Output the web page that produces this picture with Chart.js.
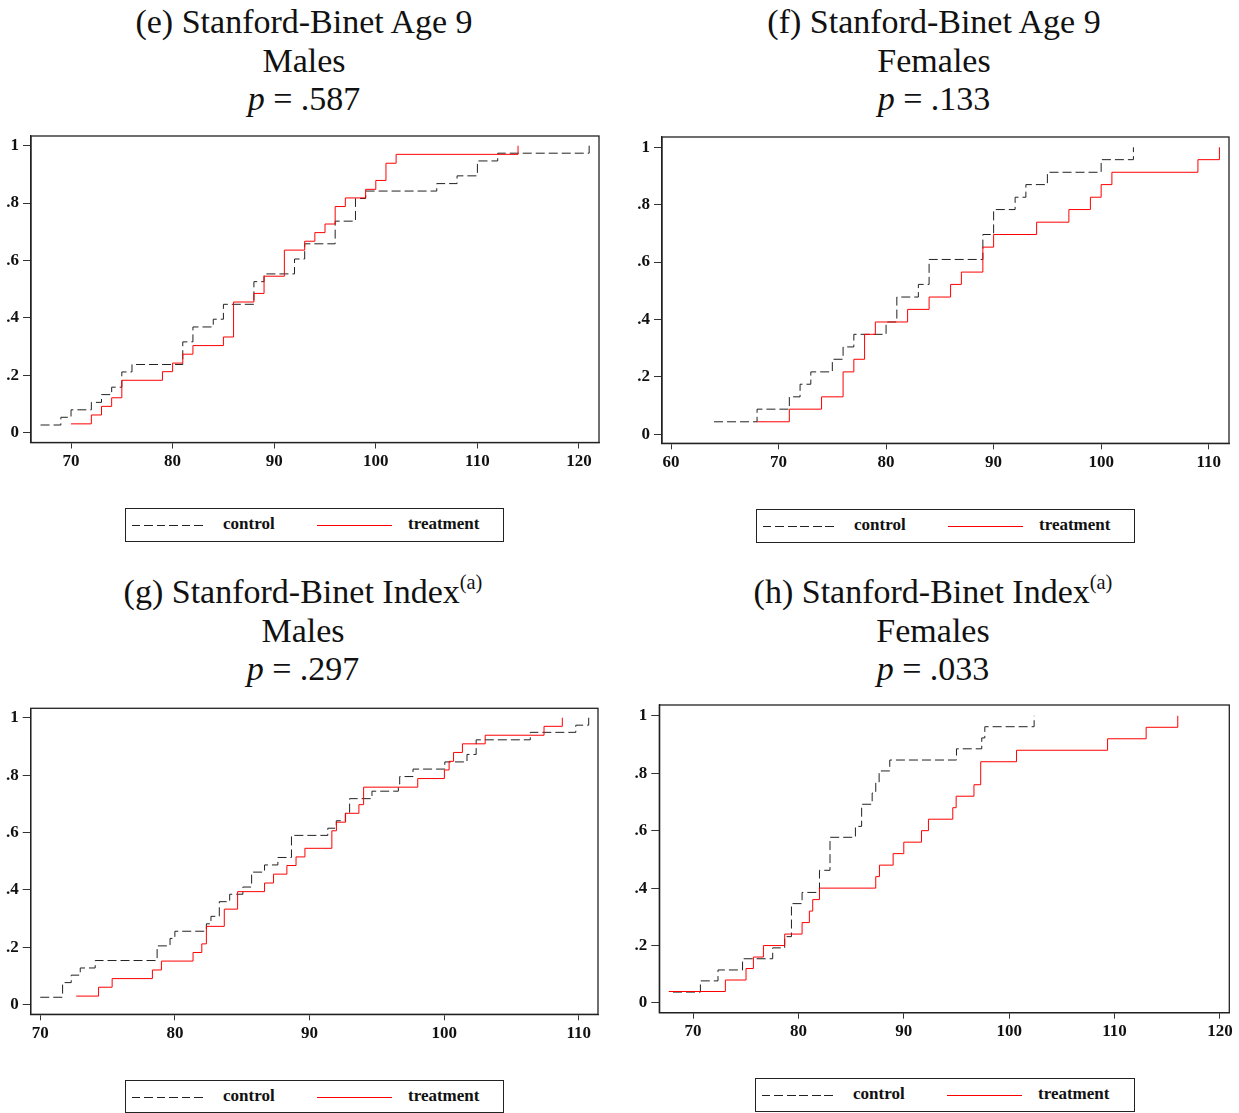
<!DOCTYPE html>
<html>
<head>
<meta charset="utf-8">
<script src="https://cdn.jsdelivr.net/npm/chart.js@4.4.0/dist/chart.umd.min.js"></script>
<style>
  body { margin: 0; background: #fff; }
  #page { position: relative; width: 1239px; height: 1113px; overflow: hidden; font-family: "Liberation Serif", serif; color: #111; }
  .title { position: absolute; width: 640px; text-align: center; font-size: 34px; line-height: 38.5px; }
  .title sup { font-size: 0.6em; line-height: 0; vertical-align: 0.7em; }
  canvas { position: absolute; }
  .legend { position: absolute; border: 1px solid #222; box-sizing: border-box; font-weight: bold; font-size: 17px; }
  .legend .item { position: absolute; top: 50%; transform: translateY(-55%); white-space: nowrap; }
  .legend .dash { position: absolute; top: 50%; height: 1px; width: 75px; background: repeating-linear-gradient(to right, #222 0 8.5px, transparent 8.5px 12.5px); }
  .legend .solid { position: absolute; top: 50%; height: 1px; width: 75px; background: #ff0000; }
</style>
</head>
<body>
<div id="page">
  <div class="title" style="left:-16px; top:3px;">(e) Stanford-Binet Age 9<br>Males<br><i>p</i> = .587</div>
  <div class="title" style="left:614px; top:3px;">(f) Stanford-Binet Age 9<br>Females<br><i>p</i> = .133</div>
  <div class="title" style="left:-17px; top:573px;">(g) Stanford-Binet Index<sup>(a)</sup><br>Males<br><i>p</i> = .297</div>
  <div class="title" style="left:613px; top:573px;">(h) Stanford-Binet Index<sup>(a)</sup><br>Females<br><i>p</i> = .033</div>

  <canvas id="chartE" width="615" height="355" style="left:0px; top:125px;"></canvas>
  <canvas id="chartF" width="619" height="355" style="left:620px; top:125px;"></canvas>
  <canvas id="chartG" width="615" height="355" style="left:0px; top:697px;"></canvas>
  <canvas id="chartH" width="619" height="355" style="left:620px; top:694px;"></canvas>

  <div class="legend" style="left:125px; top:508px; width:379px; height:34px;">
    <div class="dash" style="left:6px;"></div><div class="item" style="left:97px;">control</div>
    <div class="solid" style="left:191px;"></div><div class="item" style="left:282px;">treatment</div>
  </div>
  <div class="legend" style="left:756px; top:509px; width:379px; height:34px;">
    <div class="dash" style="left:6px;"></div><div class="item" style="left:97px;">control</div>
    <div class="solid" style="left:191px;"></div><div class="item" style="left:282px;">treatment</div>
  </div>
  <div class="legend" style="left:125px; top:1080px; width:379px; height:33px;">
    <div class="dash" style="left:6px;"></div><div class="item" style="left:97px;">control</div>
    <div class="solid" style="left:191px;"></div><div class="item" style="left:282px;">treatment</div>
  </div>
  <div class="legend" style="left:755px; top:1078px; width:380px; height:34px;">
    <div class="dash" style="left:6px;"></div><div class="item" style="left:97px;">control</div>
    <div class="solid" style="left:191px;"></div><div class="item" style="left:282px;">treatment</div>
  </div>
</div>

<script>
// tick labels
const yTicks = [0, 0.2, 0.4, 0.6, 0.8, 1];
const yTickLabels = ['0', '.2', '.4', '.6', '.8', '1'];
const eXTicks = [70, 80, 90, 100, 110, 120];
const fXTicks = [60, 70, 80, 90, 100, 110];
const gXTicks = [70, 80, 90, 100, 110];
const hXTicks = [70, 80, 90, 100, 110, 120];

// (e) Age 9, males
const eCtrlX = [67, 69, 70, 72, 73, 74, 75, 76, 81, 82, 84, 85, 88, 89, 92, 93, 96, 98, 99, 106, 108, 110, 112, 121];
const eCtrlY = [.026, .053, .079, .105, .132, .158, .211, .237, .316, .368, .395, .447, .526, .553, .605, .658, .737, .816, .842, .868, .895, .947, .974, 1];
const eTrtX = [70, 72, 73, 74, 75, 79, 80, 81, 82, 85, 86, 88, 89, 91, 93, 94, 95, 96, 97, 99, 100, 101, 102, 114];
const eTrtY = [.030, .061, .091, .121, .182, .212, .242, .273, .303, .333, .455, .485, .545, .636, .667, .697, .727, .788, .818, .848, .879, .939, .970, 1];

// (f) Age 9, females
const fCtrlX = [64, 68, 71, 72, 73, 75, 76, 77, 80, 81, 83, 84, 89, 90, 92, 93, 95, 100, 103];
const fCtrlY = [.043, .087, .130, .174, .217, .261, .304, .348, .391, .478, .522, .609, .696, .783, .826, .870, .913, .957, 1];
const fTrtX = [68, 71, 74, 76, 77, 78, 79, 82, 84, 86, 87, 89, 90, 94, 97, 99, 100, 101, 109, 111];
const fTrtY = [.043, .087, .130, .217, .261, .348, .391, .435, .478, .522, .565, .652, .696, .739, .783, .826, .870, .913, .957, 1];

// (g) Index, males
const gCtrlX = [70.0, 71.66, 72.3, 72.97, 74.08, 78.68, 79.64, 80.0, 82.34, 82.68, 83.3, 84.07, 85.05, 85.7, 86.66, 87.65, 88.66, 91.36, 91.99, 92.66, 92.98, 94.64, 96.6, 96.7, 97.69, 100.05, 101.7, 102.38, 106.4, 109.78, 110.74];
const gCtrlY = [.026, .077, .103, .128, .154, .205, .231, .256, .282, .308, .359, .385, .410, .462, .487, .513, .590, .615, .641, .667, .718, .744, .769, .795, .821, .846, .872, .923, .949, .974, 1];
const gTrtX = [72.67, 74.33, 75.34, 78.33, 79.0, 81.35, 82.0, 82.34, 83.67, 84.66, 86.66, 87.33, 88.32, 89.0, 89.66, 91.66, 92.0, 92.68, 93.67, 94.02, 98.04, 100.02, 100.37, 100.7, 101.36, 103.05, 107.42, 108.78];
const gTrtY = [.030, .061, .091, .121, .152, .182, .212, .273, .333, .394, .424, .455, .485, .515, .545, .606, .636, .667, .697, .758, .788, .818, .848, .879, .909, .939, .970, 1];

// (h) Index, females
const hCtrlX = [68.1, 70.7, 72.37, 74.7, 77.56, 78.7, 79.34, 80.35, 82.0, 83.0, 85.41, 86.0, 87.0, 87.34, 87.66, 88.67, 95.0, 97.4, 97.69, 102.37];
const hCtrlY = [.038, .077, .115, .154, .192, .231, .346, .385, .462, .577, .615, .692, .731, .769, .808, .846, .885, .923, .962, 1];
const hTrtX = [67.7, 73.07, 75.03, 75.73, 76.68, 78.7, 80.35, 81.04, 81.36, 82.0, 87.34, 87.69, 88.99, 90.0, 91.68, 92.34, 94.65, 94.97, 96.66, 97.3, 100.7, 109.34, 113.0, 116.0];
const hTrtY = [.04, .08, .12, .16, .2, .24, .28, .32, .36, .4, .44, .48, .52, .56, .6, .64, .68, .72, .76, .84, .88, .92, .96, 1];

const tickFont = { family: '"Liberation Serif", serif', size: 17, weight: 'bold' };

// stata-like frame around the plot region
const boxPlugin = {
    id: 'plotBox',
    afterDraw(chart) {
        let a = chart.chartArea;
        let ctx = chart.ctx;
        ctx.save();
        ctx.strokeStyle = '#222';
        ctx.lineWidth = 1.3;
        ctx.strokeRect(a.left, a.top, a.right - a.left, a.bottom - a.top);
        ctx.restore();
    }
};

function toPoints(xs, ys) {
    return xs.map((x, i) => ({ x: x, y: ys[i] }));
}

function buildStepChart(p) {
    let ctx = document.getElementById(p.id);
    new Chart(ctx, {
        type: 'line',
        data: {
            datasets: [
                {
                    label: 'control',
                    data: toPoints(p.ctrlX, p.ctrlY),
                    borderColor: '#222',
                    borderWidth: 1,
                    borderDash: [9, 4],
                    stepped: true,
                    pointRadius: 0,
                    fill: false,
                    order: 1,
                },
                {
                    label: 'treatment',
                    data: toPoints(p.trtX, p.trtY),
                    borderColor: '#ff0000',
                    borderWidth: 1,
                    stepped: true,
                    pointRadius: 0,
                    fill: false,
                    order: 0,
                }
            ],
        },
        options: {
            responsive: false,
            animation: false,
            layout: { padding: { top: p.padTop, right: p.padRight, left: 0, bottom: 0 } },
            plugins: { legend: { display: false }, tooltip: { enabled: false } },
            scales: {
                x: {
                    type: 'linear',
                    min: p.xMin,
                    max: p.xMax,
                    afterBuildTicks: (s) => { s.ticks = p.xTicks.map(v => ({ value: v })); },
                    afterFit: (s) => { s.height = p.xAxisH; s.paddingLeft = 0; s.paddingRight = 0; },
                    ticks: { font: tickFont, color: '#111', maxRotation: 0, autoSkip: false, padding: 3, callback: (v) => String(v) },
                    grid: { drawOnChartArea: false, drawTicks: true, tickLength: 6, color: '#333', lineWidth: 1 },
                    border: { display: true, color: '#222', width: 1.3 },
                },
                y: {
                    type: 'linear',
                    min: p.yMin,
                    max: p.yMax,
                    afterBuildTicks: (s) => { s.ticks = yTicks.map(v => ({ value: v })); },
                    afterFit: (s) => { s.width = p.yAxisW; s.paddingTop = 0; s.paddingBottom = 0; },
                    ticks: { font: tickFont, color: '#111', padding: 4, callback: (v, i) => yTickLabels[i] },
                    grid: { drawOnChartArea: false, drawTicks: true, tickLength: 8, color: '#333', lineWidth: 1 },
                    border: { display: true, color: '#222', width: 1.3 },
                },
            },
        },
        plugins: [boxPlugin],
    });
}

document.addEventListener("DOMContentLoaded", () => {
    buildStepChart({ id: 'chartE', ctrlX: eCtrlX, ctrlY: eCtrlY, trtX: eTrtX, trtY: eTrtY, xTicks: eXTicks,
        xMin: 66.06, xMax: 121.97, yMin: -0.035, yMax: 1.034, yAxisW: 31, padTop: 11, padRight: 16, xAxisH: 37.5 });
    buildStepChart({ id: 'chartF', ctrlX: fCtrlX, ctrlY: fCtrlY, trtX: fTrtX, trtY: fTrtY, xTicks: fXTicks,
        xMin: 59.16, xMax: 111.89, yMin: -0.032, yMax: 1.036, yAxisW: 42, padTop: 12, padRight: 10, xAxisH: 36.7 });
    buildStepChart({ id: 'chartG', ctrlX: gCtrlX, ctrlY: gCtrlY, trtX: gTrtX, trtY: gTrtY, xTicks: gXTicks,
        xMin: 69.29, xMax: 111.43, yMin: -0.0334, yMax: 1.0328, yAxisW: 30.7, padTop: 11.3, padRight: 17, xAxisH: 37.7 });
    buildStepChart({ id: 'chartH', ctrlX: hCtrlX, ctrlY: hCtrlY, trtX: hTrtX, trtY: hTrtY, xTicks: hXTicks,
        xMin: 66.8, xMax: 120.89, yMin: -0.0338, yMax: 1.0376, yAxisW: 39.3, padTop: 11, padRight: 9.7, xAxisH: 36.3 });
});
</script>
</body>
</html>
